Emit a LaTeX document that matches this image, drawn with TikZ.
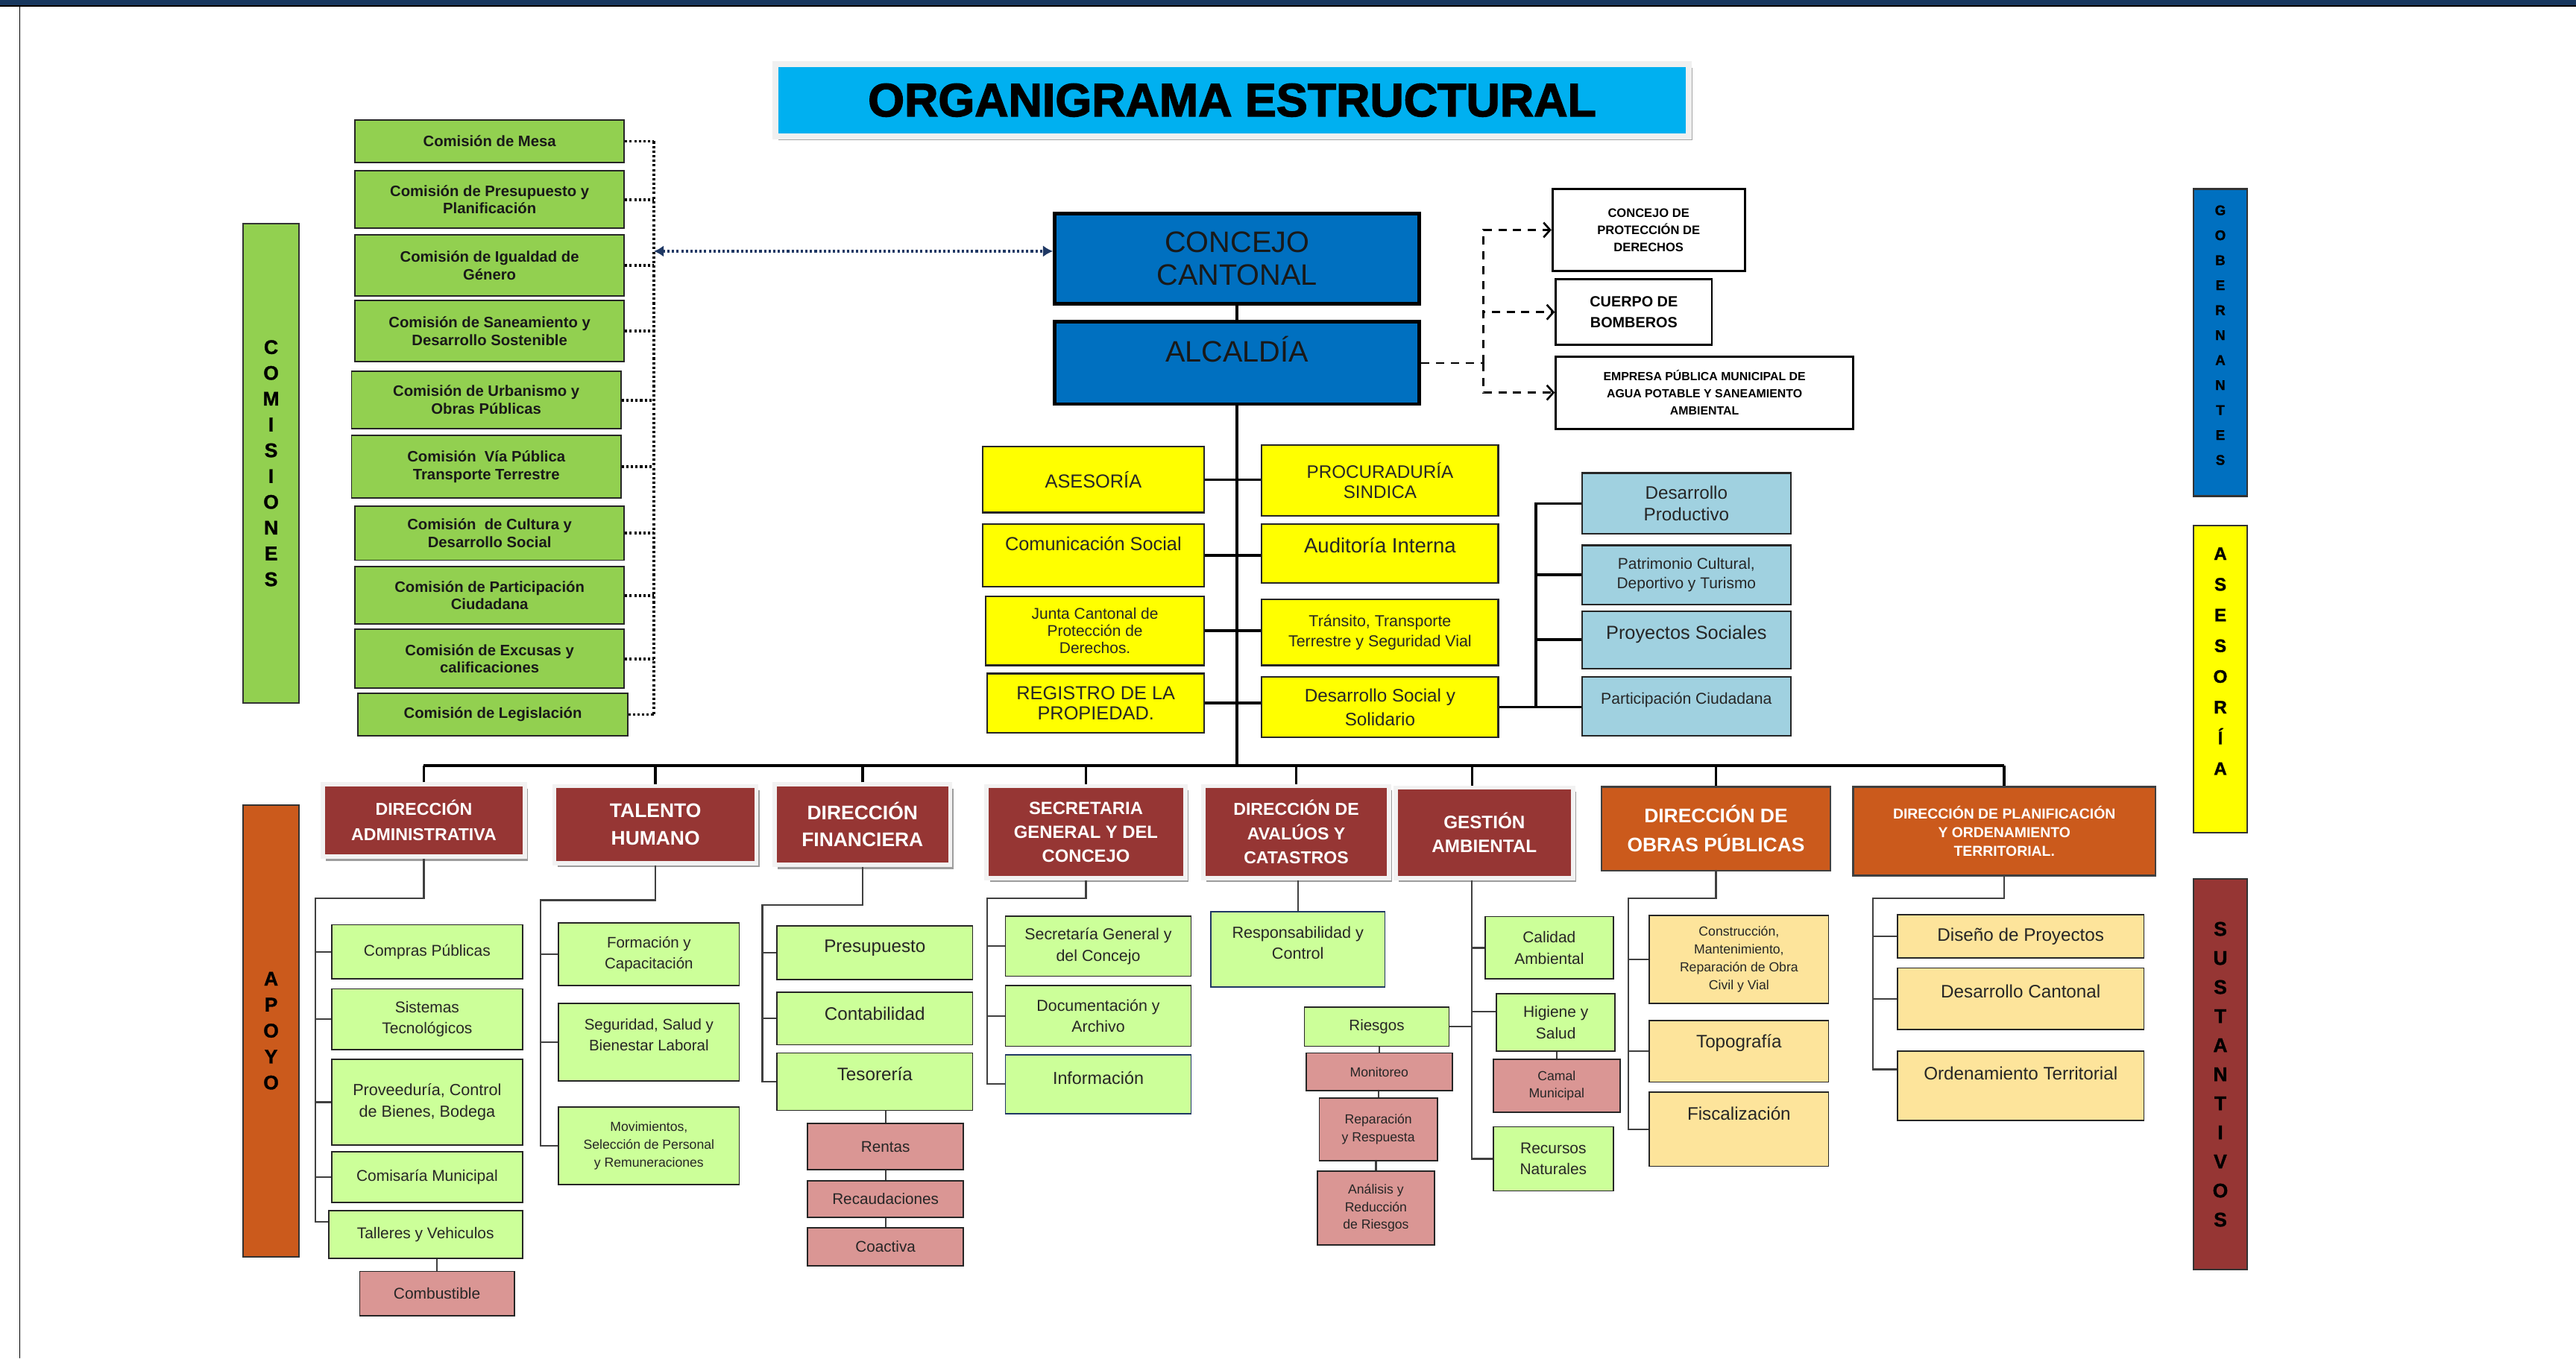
\documentclass[tikz,border=0pt]{standalone}
\usepackage{fontspec}
\setmainfont{Liberation Sans}
\newfontfamily\titulofont{Liberation Sans}[BoldFeatures={FakeBold=2.2}]
\newfontfamily\barrafont{Liberation Sans}[BoldFeatures={FakeBold=1.2}]
\usetikzlibrary{arrows.meta,calc,shadows}

\definecolor{bandanavy}{HTML}{17375E}
\definecolor{cian}{HTML}{00B0F0}
\definecolor{verdecom}{HTML}{92D050}
\definecolor{azulconcejo}{HTML}{0070C0}
\definecolor{azuloscuro}{HTML}{1F3864}
\definecolor{amarillo}{HTML}{FFFF00}
\definecolor{celeste}{HTML}{A0D1E0}
\definecolor{rojodir}{HTML}{963634}
\definecolor{naranja}{HTML}{CB5A1C}
\definecolor{verdesub}{HTML}{CCFF99}
\definecolor{rosa}{HTML}{DA9694}
\definecolor{beige}{HTML}{FDE49B}

\tikzset{
  caja/.style={rectangle, draw=black!85, line width=0.8pt, inner sep=1pt, align=center, text=black!85},
  comision/.style={caja, fill=verdecom, minimum width=164pt, text=black!90, font={\bfseries\fontsize{9.2}{10.8}\selectfont}},
  barra/.style={rectangle, draw=black!80, line width=1pt, inner sep=0pt, align=center, text=black, minimum width=33pt},
  gobierno/.style={rectangle, fill=azulconcejo, draw=black, line width=2.2pt, minimum width=222pt, inner sep=1pt, align=center, text=black!90, font={\fontsize{18}{20}\selectfont}},
  externo/.style={rectangle, fill=white, draw=black, line width=1.3pt, inner sep=1pt, align=center, text=black},
  asesor/.style={caja, fill=amarillo, line width=1pt},
  social/.style={caja, fill=celeste, line width=1pt, minimum width=127pt},
  direccion/.style={rectangle, fill=rojodir, draw=black!5, line width=2.5pt, inner sep=1pt, align=center, text=white, drop shadow={shadow xshift=2pt, shadow yshift=-2.5pt, fill=black!55, opacity=0.7}},
  obras/.style={rectangle, fill=naranja, draw=black!75, line width=1pt, inner sep=1pt, align=center, text=white},
  unidad/.style={caja, fill=verdesub},
  seccion/.style={caja, fill=rosa},
  proyecto/.style={caja, fill=beige},
  tronco/.style={line width=1.6pt},
  rama/.style={line width=1pt, draw=black!75},
  punteado/.style={line width=1.8pt, dash pattern=on 1.4pt off 1.4pt},
  flechaazul/.style={draw=azuloscuro, line width=1.6pt, dash pattern=on 1.4pt off 1.4pt, arrows={Latex[length=6pt,width=7pt]-Latex[length=6pt,width=7pt]}},
  discont/.style={line width=1.2pt, dash pattern=on 5pt off 4pt},
  flechita/.style={arrows={-Straight Barb[length=4pt,width=9pt]}}
}

\begin{document}
\begin{tikzpicture}[x=1pt,y=-1pt]
  \useasboundingbox (0,0) rectangle (1568,827);
  \fill[bandanavy] (0,0) rectangle (1568,3.2);
  \draw[line width=1.3pt] (0,3.6) -- (1568,3.6);
  \draw[line width=0.7pt] (12,3.6) -- (12,827);

  \node[rectangle, fill=cian, draw=black!6, line width=3.5pt, minimum width=556pt, minimum height=44pt, text=black, font={\titulofont\bfseries\fontsize{28.5}{30}\selectfont}, drop shadow={shadow xshift=2pt, shadow yshift=-2.5pt, fill=black!50, opacity=0.7}] at (750,61) (titulo) {ORGANIGRAMA ESTRUCTURAL};

  % comisiones
  \node[barra, fill=verdecom, minimum width=34pt, minimum height=292pt, font={\barrafont\bfseries\fontsize{12}{15.7}\selectfont}] at (165,282) (comisiones) {C\\O\\M\\I\\S\\I\\O\\N\\E\\S};
  \node[comision, minimum height=26pt] at (298,86) (cmesa) {Comisión de Mesa};
  \node[comision, minimum height=35pt] at (298,121.5) (cpresup) {Comisión de Presupuesto y\\Planificación};
  \node[comision, minimum height=37pt] at (298,161.5) (cigual) {Comisión de Igualdad de\\Género};
  \node[comision, minimum height=37pt] at (298,201.5) (csanea) {Comisión de Saneamiento y\\Desarrollo Sostenible};
  \node[comision, minimum height=35pt] at (296,243.5) (curban) {Comisión de Urbanismo y\\Obras Públicas};
  \node[comision, minimum height=38pt] at (296,284) (cvia) {Comisión\ \ Vía Pública\\Transporte Terrestre};
  \node[comision, minimum height=33pt] at (298,324.5) (ccultura) {Comisión\ \ de Cultura y\\Desarrollo Social};
  \node[comision, minimum height=35pt] at (298,362.5) (cpartic) {Comisión de Participación\\Ciudadana};
  \node[comision, minimum height=36pt] at (298,401) (cexcusa) {Comisión de Excusas y\\calificaciones};
  \node[comision, minimum height=26pt] at (300,435) (clegis) {Comisión de Legislación};
  \coordinate (cbus) at (398,0);
  \foreach \c in {cmesa,cpresup,cigual,csanea,curban,cvia,ccultura,cpartic,cexcusa,clegis}
    \draw[punteado] (\c.east) -- (\c.east -| cbus);
  \draw[punteado] (cmesa.east -| cbus) -- (clegis.east -| cbus);

  % gobierno
  \node[gobierno, minimum height=55pt] at (753,157.5) (concejo) {CONCEJO\\CANTONAL};
  \node[gobierno, minimum height=50pt, text depth=17pt] at (753,221) (alcaldia) {ALCALDÍA};
  \coordinate (cpunta) at ($(concejo.north west)!0.42!(concejo.south west)$);
  \draw[flechaazul] (cpunta -| cbus) -- (cpunta);
  \draw[tronco] (concejo.south) -- (alcaldia.north);

  \node[externo, minimum width=117pt, minimum height=50pt, font={\bfseries\fontsize{7.5}{10.5}\selectfont}] at (1003.5,140) (proteccion) {CONCEJO DE\\PROTECCIÓN DE\\DERECHOS};
  \node[externo, minimum width=95pt, minimum height=40pt, font={\bfseries\fontsize{9}{12.5}\selectfont}] at (994.5,190) (bomberos) {CUERPO DE\\BOMBEROS};
  \node[externo, minimum width=181pt, minimum height=44pt, font={\bfseries\fontsize{7.2}{10.5}\selectfont}] at (1037.5,239) (empresa) {EMPRESA PÚBLICA MUNICIPAL DE\\AGUA POTABLE Y SANEAMIENTO\\AMBIENTAL};
  \coordinate (esplit) at (903,221);
  \draw[discont] (alcaldia.east) -- (esplit);
  \draw[discont, flechita] (esplit) |- (proteccion.west);
  \draw[discont, flechita] (esplit) |- (bomberos.west);
  \draw[discont, flechita] (esplit) |- (empresa.west);

  % asesoria
  \node[asesor, minimum width=135pt, minimum height=40pt, font={\fontsize{11.5}{13}\selectfont}] at (665.5,292) (asesoria) {ASESORÍA};
  \node[asesor, minimum width=135pt, minimum height=38pt, text depth=14pt, font={\fontsize{11.5}{13}\selectfont}] at (665.5,338) (comunic) {Comunicación Social};
  \node[asesor, minimum width=133pt, minimum height=42pt, font={\fontsize{9.5}{10.5}\selectfont}] at (666.5,384) (junta) {Junta Cantonal de\\Protección de\\Derechos.};
  \node[asesor, minimum width=132pt, minimum height=36pt, font={\fontsize{11.5}{12.5}\selectfont}] at (667,428) (registro) {REGISTRO DE LA\\PROPIEDAD.};
  \node[asesor, minimum width=144pt, minimum height=43pt, font={\fontsize{11}{12.5}\selectfont}] at (840,292.5) (procur) {PROCURADURÍA\\SINDICA};
  \node[asesor, minimum width=144pt, minimum height=36pt, text depth=10pt, font={\fontsize{12.5}{13}\selectfont}] at (840,337) (auditoria) {Auditoría Interna};
  \node[asesor, minimum width=144pt, minimum height=40pt, font={\fontsize{9.7}{12.5}\selectfont}] at (840,385) (transito) {Tránsito, Transporte\\Terrestre y Seguridad Vial};
  \node[asesor, minimum width=144pt, minimum height=37pt, font={\fontsize{11}{14.5}\selectfont}] at (840,430.5) (dsocial) {Desarrollo Social y\\Solidario};
  \draw[tronco] (asesoria.east) -- (asesoria.east -| procur.west);
  \draw[tronco] (comunic.east) -- (comunic.east -| auditoria.west);
  \draw[tronco] (junta.east) -- (junta.east -| transito.west);
  \draw[tronco] (registro.east) -- (registro.east -| dsocial.west);

  \node[social, minimum height=37pt, font={\fontsize{11}{13}\selectfont}] at (1026.5,306.5) (dprod) {Desarrollo\\Productivo};
  \node[social, minimum height=36pt, font={\fontsize{9.5}{11.5}\selectfont}] at (1026.5,350) (patrim) {Patrimonio Cultural,\\Deportivo y Turismo};
  \node[social, minimum height=35pt, text depth=9pt, font={\fontsize{11.5}{13}\selectfont}] at (1026.5,389.5) (proysoc) {Proyectos Sociales};
  \node[social, minimum height=36pt, text depth=10pt, font={\fontsize{9.6}{12}\selectfont}] at (1026.5,430) (partciu) {Participación Ciudadana};
  \coordinate (sx) at (935,0);
  \draw[tronco] (dsocial.east) -- (dsocial.east -| partciu.west);
  \draw[tronco] (dprod.west) -| (sx |- dsocial.east);
  \draw[tronco] (patrim.west) -- (patrim.west -| sx);
  \draw[tronco] (proysoc.west) -- (proysoc.west -| sx);

  % barras laterales
  \node[barra, fill=azulconcejo, minimum height=187pt, text depth=9pt, font={\barrafont\bfseries\fontsize{8.5}{15.2}\selectfont}] at (1351.5,208.5) (gobernantes) {G\\O\\B\\E\\R\\N\\A\\N\\T\\E\\S};
  \node[barra, fill=amarillo, minimum height=187pt, text depth=22pt, font={\barrafont\bfseries\fontsize{11}{18.7}\selectfont}] at (1351.5,413.5) (asesorbar) {A\\S\\E\\S\\O\\R\\Í\\A};
  \node[barra, fill=rojodir, minimum height=238pt, font={\barrafont\bfseries\fontsize{12}{17.7}\selectfont}] at (1351.5,654) (sustantivos) {S\\U\\S\\T\\A\\N\\T\\I\\V\\O\\S};
  \node[barra, fill=naranja, minimum width=34pt, minimum height=275pt, font={\barrafont\bfseries\fontsize{12}{15.8}\selectfont}] at (165,627.5) (apoyo) {A\\P\\O\\Y\\O};

  % direcciones
  \node[direccion, minimum width=123pt, minimum height=44pt, font={\bfseries\fontsize{10.5}{15.5}\selectfont}] at (258,499.5) (dadmin) {DIRECCIÓN\\ADMINISTRATIVA};
  \node[direccion, minimum width=123pt, minimum height=47pt, font={\bfseries\fontsize{12}{17}\selectfont}] at (399,502) (dtalento) {TALENTO\\HUMANO};
  \node[direccion, minimum width=107pt, minimum height=49pt, font={\bfseries\fontsize{12}{16.5}\selectfont}] at (525,502) (dfinan) {DIRECCIÓN\\FINANCIERA};
  \node[direccion, minimum width=121pt, minimum height=56pt, font={\bfseries\fontsize{10.8}{14.5}\selectfont}] at (661,506.5) (dsecre) {SECRETARIA\\GENERAL Y DEL\\CONCEJO};
  \node[direccion, minimum width=113pt, minimum height=56pt, font={\bfseries\fontsize{10.5}{14.7}\selectfont}] at (789,506.5) (davaluo) {DIRECCIÓN DE\\AVALÚOS Y\\CATASTROS};
  \node[direccion, minimum width=108pt, minimum height=55pt, font={\bfseries\fontsize{11}{14.5}\selectfont}] at (903.5,507) (dgestion) {GESTIÓN\\AMBIENTAL};
  \node[obras, minimum width=139pt, minimum height=51pt, font={\bfseries\fontsize{12}{17.5}\selectfont}] at (1044.5,504.5) (dobras) {DIRECCIÓN DE\\OBRAS PÚBLICAS};
  \node[obras, minimum width=184pt, minimum height=54pt, font={\bfseries\fontsize{8.8}{11.2}\selectfont}] at (1220,506) (dplanif) {DIRECCIÓN DE PLANIFICACIÓN\\Y ORDENAMIENTO\\TERRITORIAL.};

  \coordinate (bus) at (0,466);
  \coordinate (gx) at (896,0);
  \draw[tronco] (alcaldia.south) -- (alcaldia.south |- bus);
  \draw[tronco] (dadmin.north |- bus) -- (dplanif.north |- bus);
  \foreach \d in {dadmin,dtalento,dfinan,dsecre,davaluo,dobras,dplanif}
    \draw[tronco] (\d.north) -- (\d.north |- bus);
  \draw[tronco] (dgestion.north -| gx) -- (gx |- bus);

  % administrativa
  \node[unidad, minimum width=116pt, minimum height=33pt, font={\fontsize{9.5}{13}\selectfont}] at (260,579.5) (compras) {Compras Públicas};
  \node[unidad, minimum width=116pt, minimum height=37pt, font={\fontsize{9.5}{13}\selectfont}] at (260,620.5) (sistemas) {Sistemas\\Tecnológicos};
  \node[unidad, minimum width=116pt, minimum height=52pt, font={\fontsize{9.8}{13}\selectfont}] at (260,671) (provee) {Proveeduría, Control\\de Bienes, Bodega};
  \node[unidad, minimum width=116pt, minimum height=31pt, font={\fontsize{9.5}{13}\selectfont}] at (260,716.5) (comisaria) {Comisaría Municipal};
  \node[unidad, minimum width=118pt, minimum height=29pt, font={\fontsize{9.5}{13}\selectfont}] at (259,751.5) (talleres) {Talleres y Vehiculos};
  \node[seccion, minimum width=94pt, minimum height=27pt, font={\fontsize{9.5}{12}\selectfont}] at (266,787.5) (combust) {Combustible};
  \coordinate (ka) at (192,547);
  \coordinate (tv) at ($(talleres.north west)!0.24!(talleres.south west)$);
  \draw[rama] (dadmin.south) |- (ka) |- (tv);
  \foreach \u in {compras,sistemas,provee,comisaria}
    \draw[rama] (\u.west) -- (\u.west -| ka);
  \draw[rama] (combust.north) -- (combust.north |- talleres.south);

  % talento humano
  \node[unidad, minimum width=110pt, minimum height=38pt, font={\fontsize{9.3}{12.5}\selectfont}] at (395,581) (formacion) {Formación y\\Capacitación};
  \node[unidad, minimum width=110pt, minimum height=47pt, text depth=9pt, font={\fontsize{9.3}{12.5}\selectfont}] at (395,634.5) (segur) {Seguridad, Salud y\\Bienestar Laboral};
  \node[unidad, minimum width=110pt, minimum height=47pt, font={\fontsize{8}{10.8}\selectfont}] at (395,697.5) (movim) {Movimientos,\\Selección de Personal\\y Remuneraciones};
  \coordinate (kt) at (329,548);
  \draw[rama] (dtalento.south) |- (kt) |- (movim.west);
  \draw[rama] (formacion.west) -- (formacion.west -| kt);
  \draw[rama] (segur.west) -- (segur.west -| kt);

  % financiera
  \node[unidad, minimum width=119pt, minimum height=33pt, text depth=8pt, font={\fontsize{11}{13}\selectfont}] at (532.5,580) (presup) {Presupuesto};
  \node[unidad, minimum width=119pt, minimum height=32pt, text depth=6pt, font={\fontsize{11}{13}\selectfont}] at (532.5,620) (contab) {Contabilidad};
  \node[unidad, minimum width=119pt, minimum height=35pt, text depth=9pt, font={\fontsize{11}{13}\selectfont}] at (532.5,658.5) (tesor) {Tesorería};
  \node[seccion, minimum width=95pt, minimum height=28pt, font={\fontsize{9.4}{12}\selectfont}] at (539,698) (rentas) {Rentas};
  \node[seccion, minimum width=95pt, minimum height=22.5pt, font={\fontsize{9.4}{12}\selectfont}] at (539,730) (recaud) {Recaudaciones};
  \node[seccion, minimum width=95pt, minimum height=23pt, font={\fontsize{9.4}{12}\selectfont}] at (539,759) (coact) {Coactiva};
  \coordinate (kf) at (464,551);
  \draw[rama] (dfinan.south) |- (kf) |- (tesor.west);
  \draw[rama] (presup.west) -- (presup.west -| kf);
  \draw[rama] (contab.west) -- (contab.west -| kf);
  \draw[rama] (rentas.north) -- (rentas.north |- tesor.south);
  \draw[rama] (recaud.north) -- (rentas.south);
  \draw[rama] (coact.north) -- (recaud.south);

  % secretaria
  \node[unidad, minimum width=113pt, minimum height=36.5pt, font={\fontsize{9.7}{13}\selectfont}] at (668.5,576) (secgen) {Secretaría General y\\del Concejo};
  \node[unidad, minimum width=113pt, minimum height=37pt, font={\fontsize{9.7}{13}\selectfont}] at (668.5,618.5) (docum) {Documentación y\\Archivo};
  \node[unidad, draw=azuloscuro, minimum width=113pt, minimum height=36pt, text depth=8pt, font={\fontsize{10.6}{13}\selectfont}] at (668.5,660) (inform) {Información};
  \coordinate (ks) at (601,547);
  \draw[rama] (dsecre.south) |- (ks) |- (inform.west);
  \draw[rama] (secgen.west) -- (secgen.west -| ks);
  \draw[rama] (docum.west) -- (docum.west -| ks);

  % avaluos
  \node[unidad, draw=azuloscuro, minimum width=106pt, minimum height=46pt, text depth=8pt, font={\fontsize{9.8}{12.5}\selectfont}] at (790,578) (respons) {Responsabilidad y\\Control};
  \draw[rama] (respons.north) -- (respons.north |- davaluo.south);

  % gestion ambiental
  \node[unidad, minimum width=78pt, minimum height=38pt, font={\fontsize{9.5}{13}\selectfont}] at (943,577) (calidad) {Calidad\\Ambiental};
  \node[unidad, minimum width=72pt, minimum height=35pt, font={\fontsize{9.5}{13}\selectfont}] at (947,622.5) (higiene) {Higiene y\\Salud};
  \node[seccion, minimum width=77pt, minimum height=32pt, font={\fontsize{8}{10.7}\selectfont}] at (947.5,661) (camal) {Camal\\Municipal};
  \node[unidad, minimum width=73pt, minimum height=39pt, font={\fontsize{9.5}{13}\selectfont}] at (945.5,705.5) (recursos) {Recursos\\Naturales};
  \node[unidad, minimum width=88pt, minimum height=24pt, font={\fontsize{9.3}{12}\selectfont}] at (838,625) (riesgos) {Riesgos};
  \node[seccion, minimum width=89pt, minimum height=23pt, font={\fontsize{8}{10.7}\selectfont}] at (839.5,652.5) (monitoreo) {Monitoreo};
  \node[seccion, minimum width=72pt, minimum height=38pt, font={\fontsize{8}{10.7}\selectfont}] at (839,687.5) (reparac) {Reparación\\y Respuesta};
  \node[seccion, minimum width=71pt, minimum height=45pt, font={\fontsize{8}{10.7}\selectfont}] at (837.5,735.5) (analisis) {Análisis y\\Reducción\\de Riesgos};
  \coordinate (hv) at ($(higiene.north west)!0.31!(higiene.south west)$);
  \draw[rama] (dgestion.south -| gx) -- (gx |- recursos.west) -- (recursos.west);
  \draw[rama] (calidad.west) -- (calidad.west -| gx);
  \draw[rama] (hv) -- (hv -| gx);
  \draw[rama] (riesgos.east) -- (riesgos.east -| gx);
  \draw[rama] (camal.north) -- (camal.north |- higiene.south);
  \draw[rama] (monitoreo.north) -- (monitoreo.north |- riesgos.south);
  \draw[rama] (reparac.north) -- (reparac.north |- monitoreo.south);
  \draw[rama] (analisis.north) -- (analisis.north |- reparac.south);

  % obras publicas
  \node[proyecto, minimum width=109pt, minimum height=53.5pt, font={\fontsize{8}{11}\selectfont}] at (1058.5,584) (constr) {Construcción,\\Mantenimiento,\\Reparación de Obra\\Civil y Vial};
  \node[proyecto, minimum width=109pt, minimum height=37.5pt, text depth=12pt, font={\fontsize{11}{13}\selectfont}] at (1058.5,640) (topog) {Topografía};
  \node[proyecto, minimum width=109pt, minimum height=45pt, text depth=19pt, font={\fontsize{11}{13}\selectfont}] at (1058.5,687.5) (fiscal) {Fiscalización};
  \coordinate (ko) at (991,547);
  \draw[rama] (dobras.south) |- (ko) |- (fiscal.west);
  \draw[rama] (constr.west) -- (constr.west -| ko);
  \draw[rama] (topog.west) -- (topog.west -| ko);

  % planificacion
  \node[proyecto, minimum width=150pt, minimum height=26.5pt, font={\fontsize{11}{13}\selectfont}] at (1230,570) (diseno) {Diseño de Proyectos};
  \node[proyecto, minimum width=150pt, minimum height=37.5pt, text depth=9pt, font={\fontsize{11}{13}\selectfont}] at (1230,608) (dcanton) {Desarrollo Cantonal};
  \node[proyecto, minimum width=150pt, minimum height=42.5pt, text depth=15pt, font={\fontsize{11}{13}\selectfont}] at (1230,661) (ordterr) {Ordenamiento Territorial};
  \coordinate (kp) at (1140,547);
  \coordinate (ot) at ($(ordterr.north west)!0.27!(ordterr.south west)$);
  \draw[rama] (dplanif.south) |- (kp) |- (ot);
  \draw[rama] (diseno.west) -- (diseno.west -| kp);
  \draw[rama] (dcanton.west) -- (dcanton.west -| kp);
\end{tikzpicture}
\end{document}
